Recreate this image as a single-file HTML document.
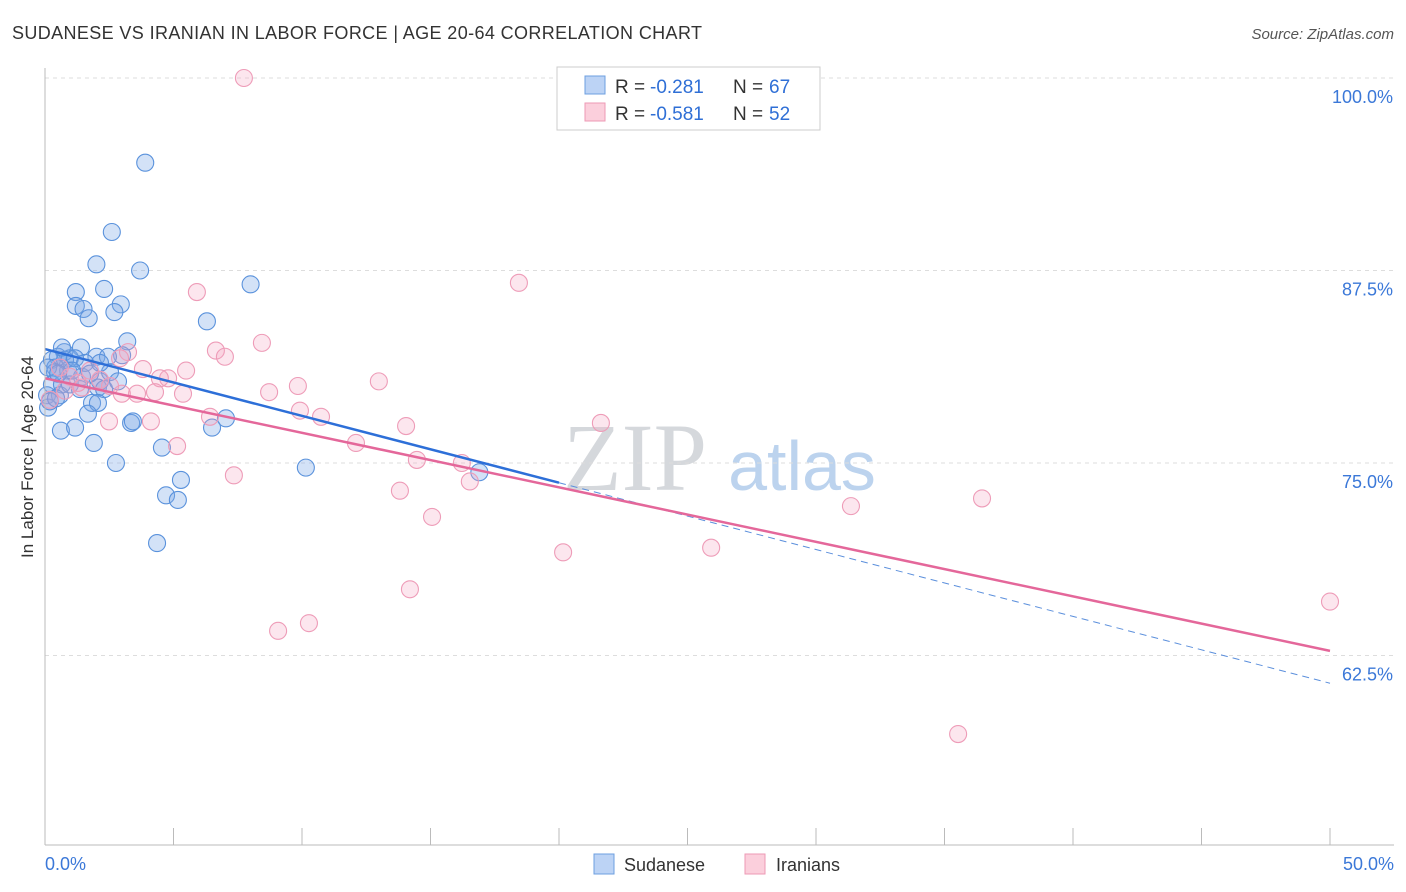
<!DOCTYPE html>
<html><head><meta charset="utf-8"><style>
body{margin:0;background:#fff;font-family:"Liberation Sans",sans-serif;}
#wrap{position:relative;width:1406px;height:892px;overflow:hidden;}
</style></head><body>
<div id="wrap">
<svg id="svg" width="1406" height="892" xmlns="http://www.w3.org/2000/svg">
<text x="12" y="39" font-size="18" fill="#333" textLength="690" lengthAdjust="spacing">SUDANESE VS IRANIAN IN LABOR FORCE | AGE 20-64 CORRELATION CHART</text>
<text x="1394" y="39" font-size="15" fill="#555" text-anchor="end" font-style="italic">Source: ZipAtlas.com</text>
<text x="33" y="457" font-size="17" fill="#333" text-anchor="middle" transform="rotate(-90 33 457)">In Labor Force | Age 20-64</text>
<text x="635" y="490" font-size="96" fill="#d5d8dc" text-anchor="middle" font-family="Liberation Serif,serif">ZIP</text>
<text x="802" y="490" font-size="70" fill="#bcd3ee" text-anchor="middle">atlas</text>
<g id="grid"></g><g id="pts"></g><g id="lines"></g><g id="axes"></g>
<g>
<rect x="557" y="67" width="263" height="63" fill="#fff" stroke="#ccc"/>
<rect x="585" y="76" width="20" height="18" fill="#bcd3f5" stroke="#6d9fe0"/>
<rect x="585" y="103" width="20" height="18" fill="#fbcfdc" stroke="#ee9ab5"/>
<text x="615" y="93" font-size="19" fill="#333">R =</text>
<text x="650" y="93" font-size="19" fill="#2f6fd6">-0.281</text>
<text x="733" y="93" font-size="19" fill="#333">N =</text>
<text x="769" y="93" font-size="19" fill="#2f6fd6">67</text>
<text x="615" y="120" font-size="19" fill="#333">R =</text>
<text x="650" y="120" font-size="19" fill="#2f6fd6">-0.581</text>
<text x="733" y="120" font-size="19" fill="#333">N =</text>
<text x="769" y="120" font-size="19" fill="#2f6fd6">52</text>
</g>
<g>
<rect x="594" y="854" width="20" height="20" fill="#bcd3f5" stroke="#6d9fe0"/>
<text x="624" y="871" font-size="18" fill="#333">Sudanese</text>
<rect x="745" y="854" width="20" height="20" fill="#fbcfdc" stroke="#ee9ab5"/>
<text x="776" y="871" font-size="18" fill="#333">Iranians</text>
</g>
</svg>
</div>
<script>
const yTicks=[100,87.5,75,62.5];
const yTickLabels=["100.0%","87.5%","75.0%","62.5%"];
const xTickLabels=["0.0%","50.0%"];
const sudX=[3.9,2.6,2.0,3.7,8.0,2.3,1.2,1.2,1.5,1.7,2.95,2.7,6.3,3.2,1.4,0.75,0.5,0.97,0.27,2.0,3.0,2.45,0.4,0.9,1.44,2.14,0.27,0.66,2.06,2.3,0.08,0.58,1.83,2.06,1.67,0.12,0.19,3.35,3.42,7.04,6.5,0.62,1.17,1.9,4.55,2.76,10.15,16.9,5.29,4.71,5.17,4.36,0.39,0.78,1.17,1.56,0.12,0.97,1.36,0.43,2.53,1.75,0.66,1.05,0.51,2.14,2.84];
const sudY=[94.5,90.0,87.9,87.5,86.6,86.3,86.1,85.2,85.0,84.4,85.3,84.8,84.2,82.9,82.5,82.2,81.9,81.8,81.7,81.9,82.0,81.9,81.2,81.0,80.6,80.3,80.1,80.1,79.9,79.8,79.4,79.4,78.9,78.9,78.2,78.6,79.0,77.6,77.7,77.9,77.3,77.1,77.3,76.3,76.0,75.0,74.7,74.4,73.9,72.9,72.6,69.8,80.9,81.7,81.8,81.5,81.2,80.1,79.8,79.2,80.9,80.8,82.5,81.0,80.8,81.5,80.3];
const iraX=[7.74,18.44,5.91,8.44,6.65,7.0,3.23,2.92,3.81,5.49,4.79,4.47,9.84,12.99,8.72,5.37,4.28,3.58,2.99,9.92,6.42,10.74,2.49,4.12,21.63,14.05,12.1,5.14,14.47,16.22,16.53,7.35,13.81,15.06,31.36,36.46,20.16,25.92,14.2,9.07,10.27,50.0,35.53,2.14,0.97,1.44,0.58,0.19,1.75,1.28,0.78,2.53];
const iraY=[100.0,86.7,86.1,82.8,82.3,81.9,82.2,81.8,81.1,81.0,80.5,80.5,80.0,80.3,79.6,79.5,79.6,79.5,79.5,78.4,78.0,78.0,77.7,77.7,77.6,77.4,76.3,76.1,75.2,75.0,73.8,74.2,73.2,71.5,72.2,72.7,69.2,69.5,66.8,64.1,64.6,66.0,57.4,80.4,80.6,79.9,81.2,79.1,81.0,80.2,79.7,80.0];
const sudTrend=[82.4,60.7];
const iraTrend=[80.5,62.8];
const X0=45,X1=1330,YT=78,PX=15.4;
const xs=v=>X0+v/50*(X1-X0);
const ys=v=>YT+(100-v)*PX;
const NS="http://www.w3.org/2000/svg";
function mk(tag,attrs,parent){const e=document.createElementNS(NS,tag);for(const k in attrs)e.setAttribute(k,attrs[k]);document.getElementById(parent).appendChild(e);return e;}
yTicks.forEach((t,i)=>{
 const g=mk('line',{x1:45,x2:1394,y1:ys(t),y2:ys(t),stroke:'#ddd','stroke-dasharray':'4,4'},'grid');
 
 
 const l=mk('text',{x:1393,y:ys(t)+25,'font-size':18,fill:'#3b78d8','text-anchor':'end'},'grid');
 l.textContent=yTickLabels[i];
 
 
});
const ax=mk('line',{x1:45,x2:45,y1:68,y2:845,stroke:'#bbb'},'axes');


const bx=mk('line',{x1:45,x2:1394,y1:845,y2:845,stroke:'#bbb'},'axes');


for(let i=0;i<=10;i++){
 const t=mk('line',{x1:xs(i*5),x2:xs(i*5),y1:828,y2:845,stroke:'#bbb'},'axes');
 
 
}
[[0,'start',45],[50,'end',1394]].forEach((d,i)=>{
 const t=mk('text',{x:d[2],y:870,'font-size':18,fill:'#3b78d8','text-anchor':d[1]},'axes');
 t.textContent=xTickLabels[i];
 
 
});
sudX.forEach((x,i)=>{
 const c=mk('circle',{cx:xs(x),cy:ys(sudY[i]),r:8.5,fill:'rgba(120,168,232,0.33)',stroke:'#5a92dc','stroke-width':1.1},'pts');
 
 
});
iraX.forEach((x,i)=>{
 const c=mk('circle',{cx:xs(x),cy:ys(iraY[i]),r:8.5,fill:'rgba(245,165,195,0.28)',stroke:'#ee9cb8','stroke-width':1.1},'pts');
 
 
});
const sAt=x=>sudTrend[0]+(sudTrend[1]-sudTrend[0])*x/50;
const l1=mk('line',{x1:xs(0),y1:ys(sAt(0)),x2:xs(20),y2:ys(sAt(20)),stroke:'#2d6fd8','stroke-width':2.5},'lines');


const l2=mk('line',{x1:xs(20),y1:ys(sAt(20)),x2:xs(50),y2:ys(sAt(50)),stroke:'#5b8fdc','stroke-width':1,'stroke-dasharray':'7,5'},'lines');


const l3=mk('line',{x1:xs(0),y1:ys(iraTrend[0]),x2:xs(50),y2:ys(iraTrend[1]),stroke:'#e4679a','stroke-width':2.5},'lines');


</script>
</body></html>
